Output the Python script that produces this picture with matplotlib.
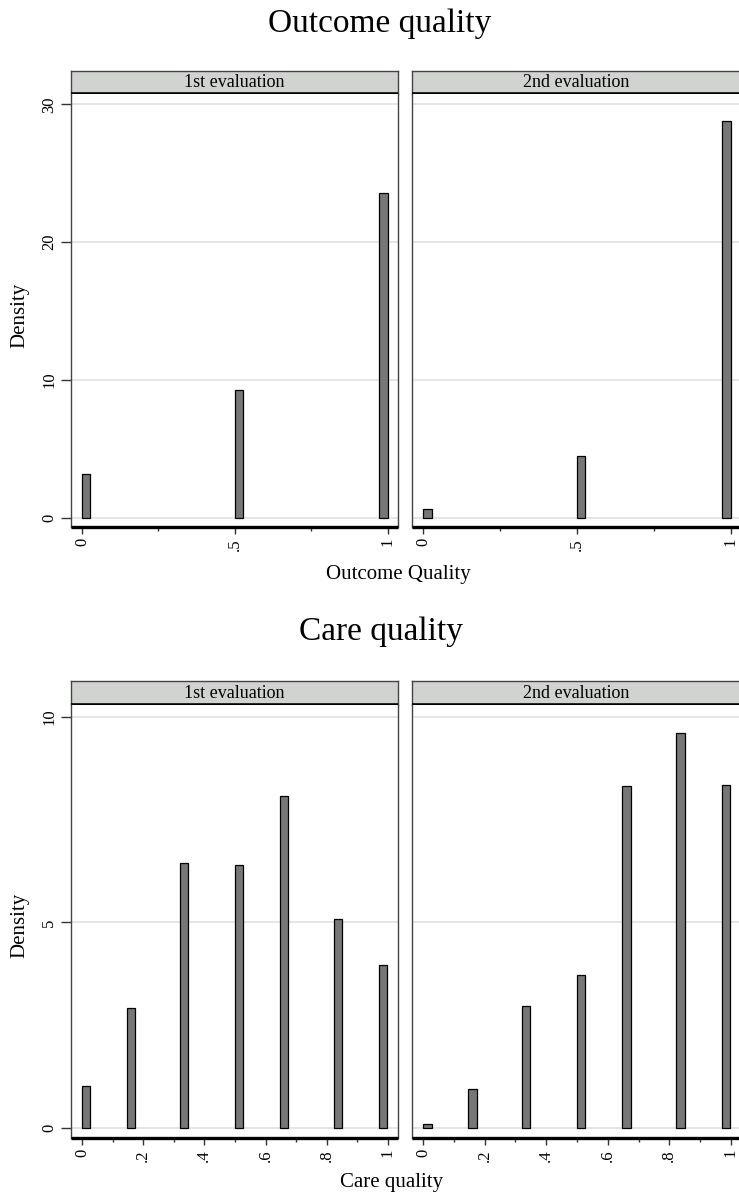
import matplotlib
matplotlib.use("Agg")
import matplotlib.pyplot as plt

plt.rcParams['font.family'] = ['Liberation Serif', 'DejaVu Serif']

# data
outcome_left = [0.0, 0.5, 0.972]
outcome_1st = [3.2, 9.3, 23.6]
outcome_2nd = [0.66, 4.5, 28.8]
outcome_ticks = [0, 0.5, 1]
outcome_ticklabels = ["0", ".5", "1"]
outcome_minor = [0.25, 0.75]
outcome_yticks = [0, 10, 20, 30]

care_left = [0.0, 0.147, 0.32, 0.5, 0.647, 0.823, 0.971]
care_1st = [1.02, 2.93, 6.45, 6.40, 8.07, 5.07, 3.96]
care_2nd = [0.09, 0.96, 2.96, 3.73, 8.30, 9.59, 8.34]
care_ticks = [0, 0.2, 0.4, 0.6, 0.8, 1]
care_ticklabels = ["0", ".2", ".4", ".6", ".8", "1"]
care_minor = [0.1, 0.3, 0.5, 0.7, 0.9]
care_yticks = [0, 5, 10]

bin_width = 0.0275
panel_names = ["1st evaluation", "2nd evaluation"]

W, H = 739, 1195
fig = plt.figure(figsize=(W / 100, H / 100), dpi=100)


def px_axes(x0, y0, x1, y1):
    return fig.add_axes([x0 / W, 1 - y1 / H, (x1 - x0) / W, (y1 - y0) / H])


def header(x0, x1, y0, y1, name):
    hx = px_axes(x0, y0, x1, y1)
    hx.set_facecolor("#d1d3d1")
    hx.set_xticks([])
    hx.set_yticks([])
    for s in ["left", "right", "top"]:
        hx.spines[s].set_color("#444444")
        hx.spines[s].set_linewidth(1.0)
    hx.spines["bottom"].set_color("black")
    hx.spines["bottom"].set_linewidth(2.6)
    hx.spines["bottom"].set_capstyle("butt")
    hx.text(0.5, 0.5, name, ha="center", va="center", fontsize=13,
            transform=hx.transAxes)


def panel(x0, x1, y0, y1, left, heights, ylim, yticks, xticks, xlabels,
          minor, show_y):
    ax = px_axes(x0, y0, x1, y1)
    ax.bar(left, heights, width=bin_width, align="edge", color="#777777",
           edgecolor="black", linewidth=0.9, zorder=3)
    ax.set_xlim(-0.036, 1.033)
    ax.set_ylim(*ylim)
    ax.set_yticks(yticks)
    ax.yaxis.grid(True, color="#e3e3e3", linewidth=1.3, zorder=0)
    ax.set_axisbelow(True)
    ax.set_xticks(xticks)
    ax.set_xticklabels(xlabels, rotation=90, fontsize=12)
    ax.set_xticks(minor, minor=True)
    ax.tick_params(axis="x", which="major", length=5, width=1.0,
                   color="#333333", pad=3)
    ax.tick_params(axis="x", which="minor", length=3, width=1.0,
                   color="#333333")
    if show_y:
        ax.set_yticklabels([str(t) for t in yticks], rotation=90,
                           va="center", fontsize=12)
        ax.tick_params(axis="y", length=7, width=1.0, color="#333333", pad=3)
    else:
        ax.tick_params(axis="y", length=0, labelleft=False)
    for s in ["left", "right"]:
        ax.spines[s].set_color("#444444")
        ax.spines[s].set_linewidth(1.0)
    ax.spines["top"].set_visible(False)
    ax.spines["bottom"].set_color("black")
    ax.spines["bottom"].set_linewidth(2.4)
    ax.spines["bottom"].set_capstyle("butt")
    return ax


# Outcome quality
fig.text(380 / W, 1 - 24 / H, "Outcome quality", ha="center", va="center",
         fontsize=24)
header(71, 398, 71, 94, panel_names[0])
header(412, 741, 71, 94, panel_names[1])
panel(71, 398, 94, 527, outcome_left, outcome_1st, (-0.68, 30.76),
      outcome_yticks, outcome_ticks, outcome_ticklabels, outcome_minor, True)
panel(412, 741, 94, 527, outcome_left, outcome_2nd, (-0.68, 30.76),
      outcome_yticks, outcome_ticks, outcome_ticklabels, outcome_minor, False)
fig.text(398 / W, 1 - 574 / H, "Outcome Quality", ha="center", va="center",
         fontsize=15)
fig.text(20 / W, 1 - 315 / H, "Density", ha="center", va="center",
         rotation=90, fontsize=15)

# Care quality
fig.text(381 / W, 1 - 632 / H, "Care quality", ha="center", va="center",
         fontsize=24)
header(71, 398, 681, 705, panel_names[0])
header(412, 741, 681, 705, panel_names[1])
panel(71, 398, 705, 1138, care_left, care_1st, (-0.24, 10.28),
      care_yticks, care_ticks, care_ticklabels, care_minor, True)
panel(412, 741, 705, 1138, care_left, care_2nd, (-0.24, 10.28),
      care_yticks, care_ticks, care_ticklabels, care_minor, False)
fig.text(392 / W, 1 - 1182 / H, "Care quality", ha="center", va="center",
         fontsize=15)
fig.text(20 / W, 1 - 925 / H, "Density", ha="center", va="center",
         rotation=90, fontsize=15)

fig.savefig("out.png", dpi=100, facecolor="white")
